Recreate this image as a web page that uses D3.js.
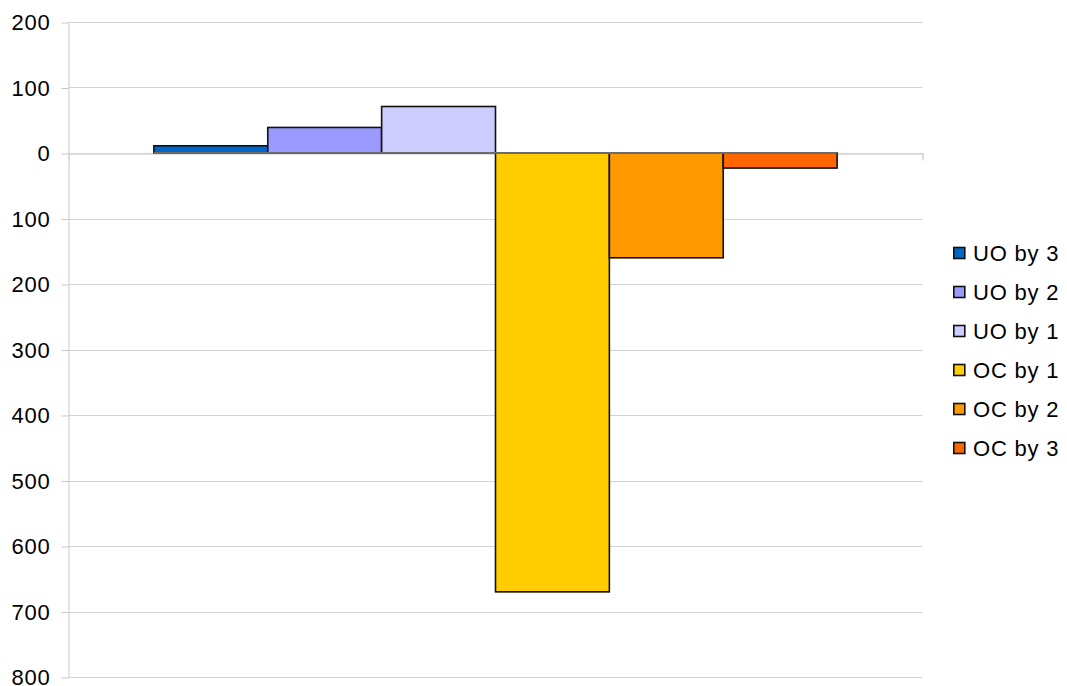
<!DOCTYPE html>
<html>
<head>
<meta charset="utf-8">
<script src="https://cdn.jsdelivr.net/npm/d3@7"></script>
<style>
  html, body { margin: 0; padding: 0; background: #fff; }
  svg { display: block; font-family: "Liberation Sans", Arial, sans-serif; }
</style>
</head>
<body>
<svg id="chart" width="1067" height="686"></svg>
<script>
// Series names and values (under-orders positive, over-counts negative)
const seriesNames = ["UO by 3", "UO by 2", "UO by 1", "OC by 1", "OC by 2", "OC by 3"];
const seriesValues = [11, 39, 71, -670, -160, -23];
const seriesColors = ["#0066cc", "#9999ff", "#ccccff", "#ffcc00", "#ff9900", "#ff6600"];
const categories = [""];
const tickValues = [200, 100, 0, -100, -200, -300, -400, -500, -600, -700, -800];
const tickLabels = ["200", "100", "0", "100", "200", "300", "400", "500", "600", "700", "800"];

const svg = d3.select("#chart");
const plot = { left: 68.5, right: 922.5, top: 22, bottom: 677 };

const y = d3.scaleLinear().domain([-800, 200]).range([plot.bottom, plot.top]);
const x0 = d3.scaleBand().domain(categories).range([plot.left, plot.right])
  .paddingInner(0).paddingOuter(0.125);
const x1 = d3.scaleBand().domain(seriesNames).range([0, x0.bandwidth()]).padding(0);

const labelStyle = sel => sel
  .style("font-size", "22px")
  .style("letter-spacing", "0.8px")
  .style("font-family", "'Liberation Sans', Arial, sans-serif")
  .attr("fill", "#000");

// Horizontal gridlines
svg.append("g")
  .selectAll("line")
  .data(tickValues)
  .join("line")
  .attr("x1", plot.left).attr("x2", plot.right)
  .attr("y1", d => Math.round(y(d)) + 0.5).attr("y2", d => Math.round(y(d)) + 0.5)
  .attr("stroke", "#d4d4d4").attr("stroke-width", 1);

// Y axis
const yAxis = d3.axisLeft(y)
  .tickValues(tickValues)
  .tickFormat((d, i) => tickLabels[i])
  .tickSize(7).tickSizeOuter(0).tickPadding(11);
const gy = svg.append("g").attr("transform", `translate(${plot.left},0.5)`).call(yAxis);
gy.select(".domain").attr("stroke", "#c8c8c8");
gy.selectAll(".tick line").attr("stroke", "#c8c8c8");
gy.selectAll(".tick text").call(labelStyle);

// X axis along zero
const xAxis = d3.axisBottom(x0).tickSize(0).tickSizeOuter(7).tickFormat("");
const gx = svg.append("g").attr("transform", `translate(0,${Math.round(y(0)) + 0.5})`).call(xAxis);
gx.select(".domain").attr("stroke", "#d4d4d4").attr("stroke-width", 1.5);

// Bars
const group = svg.append("g").attr("transform", `translate(${x0(categories[0])},0)`);
group.selectAll("rect")
  .data(seriesNames.map((n, i) => ({ name: n, value: seriesValues[i], color: seriesColors[i] })))
  .join("rect")
  .attr("x", d => x1(d.name))
  .attr("y", d => y(Math.max(0, d.value)))
  .attr("width", x1.bandwidth())
  .attr("height", d => Math.abs(y(d.value) - y(0)))
  .attr("fill", d => d.color)
  .attr("stroke", "#111")
  .attr("stroke-width", 1.6);

// Zero baseline across the bar span
group.append("line")
  .attr("x1", 0).attr("x2", x0.bandwidth())
  .attr("y1", y(0)).attr("y2", y(0))
  .attr("stroke", "#6b6b6b").attr("stroke-width", 1.8);

// Legend
const legend = svg.append("g").attr("transform", "translate(953,253)");
const item = legend.selectAll("g")
  .data(seriesNames)
  .join("g")
  .attr("transform", (d, i) => `translate(0,${i * 39})`);
item.append("rect")
  .attr("x", 0.8).attr("y", -5.5).attr("width", 11).attr("height", 11)
  .attr("fill", (d, i) => seriesColors[i])
  .attr("stroke", "#111").attr("stroke-width", 1.6);
item.append("text")
  .attr("x", 20).attr("y", 0).attr("dy", "0.36em")
  .call(labelStyle)
  .text(d => d);
</script>
</body>
</html>
